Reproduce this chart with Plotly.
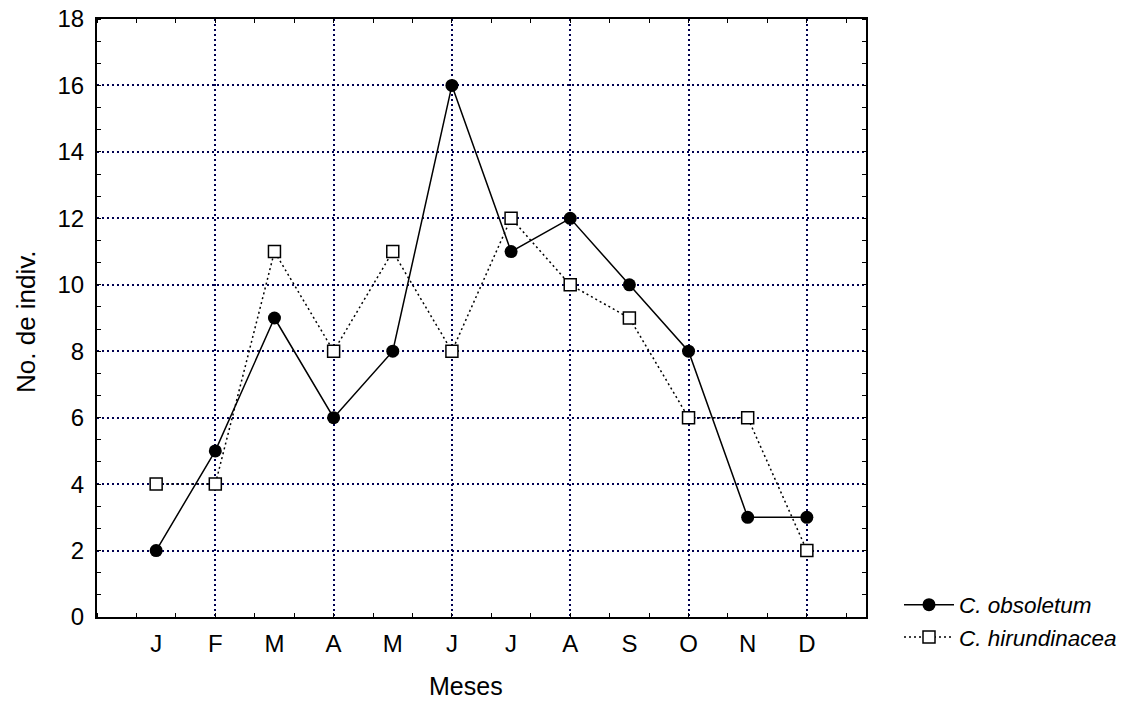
import plotly.graph_objects as go

months = ["J", "F", "M", "A", "M", "J", "J", "A", "S", "O", "N", "D"]
month_pos = [1, 2, 3, 4, 5, 6, 7, 8, 9, 10, 11, 12]
obsoletum = [2, 5, 9, 6, 8, 16, 11, 12, 10, 8, 3, 3]
hirundinacea = [4, 4, 11, 8, 11, 8, 12, 10, 9, 6, 6, 2]
y_ticks = [0, 2, 4, 6, 8, 10, 12, 14, 16, 18]
x_grid = [2, 4, 6, 8, 10, 12]

FONT = "Liberation Sans, Arial, sans-serif"
GRID = "#000050"
W, H = 1123, 702
L, R, T, B = 97, 866, 19, 617

fig = go.Figure()
fig.add_trace(go.Scatter(
    x=month_pos, y=obsoletum, name="<i>C. obsoletum</i>", mode="lines+markers",
    line=dict(color="black", width=1.5),
    marker=dict(symbol="circle", size=13, color="black"),
))
fig.add_trace(go.Scatter(
    x=month_pos, y=hirundinacea, name="<i>C. hirundinacea</i>", mode="lines+markers",
    line=dict(color="black", width=1.5, dash="2px,3px"),
    marker=dict(symbol="square", size=12, color="white", line=dict(color="black", width=1.5)),
))
fig.add_trace(go.Scatter(x=[], y=[], xaxis="x2", showlegend=False, hoverinfo="skip"))

fig.update_layout(
    width=W, height=H,
    margin=dict(l=L, r=W - R, t=T, b=H - B, autoexpand=False),
    paper_bgcolor="white", plot_bgcolor="white",
    font=dict(family=FONT, size=24, color="black"),
    showlegend=True,
    legend=dict(xref="container", yref="container", x=899 / W, y=1 - 621 / H,
                xanchor="left", yanchor="middle",
                font=dict(size=22.5), bgcolor="rgba(0,0,0,0)", tracegroupgap=0, itemwidth=50),
    xaxis=dict(
        range=[0, 13], tickmode="array", tickvals=month_pos, ticktext=months,
        showgrid=False, zeroline=False, ticks="", showline=True, linecolor="black",
        linewidth=2, mirror="ticks", ticklabelstandoff=4,
        minor=dict(tick0=0, dtick=2/3, ticks="inside", ticklen=4, tickcolor="black",
                   tickwidth=1.2, showgrid=False),
        tickfont=dict(size=24),
    ),
    xaxis2=dict(
        range=[0, 13], overlaying="x", anchor="y", tickmode="array", tickvals=x_grid,
        showticklabels=False, ticks="", showgrid=True, gridcolor=GRID, gridwidth=1.5,
        griddash="2px,3px", zeroline=False, showline=False,
    ),
    yaxis=dict(
        range=[0, 18], tickmode="array", tickvals=y_ticks,
        showgrid=True, gridcolor=GRID, gridwidth=1.5, griddash="2px,3px",
        zeroline=False, ticks="", showline=True, linecolor="black", linewidth=2,
        mirror="ticks", ticklabelstandoff=6,
        minor=dict(tick0=0, dtick=2/3, ticks="inside", ticklen=4, tickcolor="black",
                   tickwidth=1.2, showgrid=False),
        tickfont=dict(size=24),
    ),
)
fig.add_annotation(text="Meses", xref="paper", yref="paper",
                   x=(466 - L) / (R - L), y=-(701 - B) / (B - T), borderpad=0,
                   showarrow=False, font=dict(size=25), xanchor="center", yanchor="bottom")
fig.add_annotation(text="No. de indiv.", xref="paper", yref="paper", textangle=-90,
                   x=-(L - 26) / (R - L), y=(B - 322) / (B - T),
                   showarrow=False, font=dict(size=26), xanchor="center", yanchor="middle")

fig.write_html("out.html")
